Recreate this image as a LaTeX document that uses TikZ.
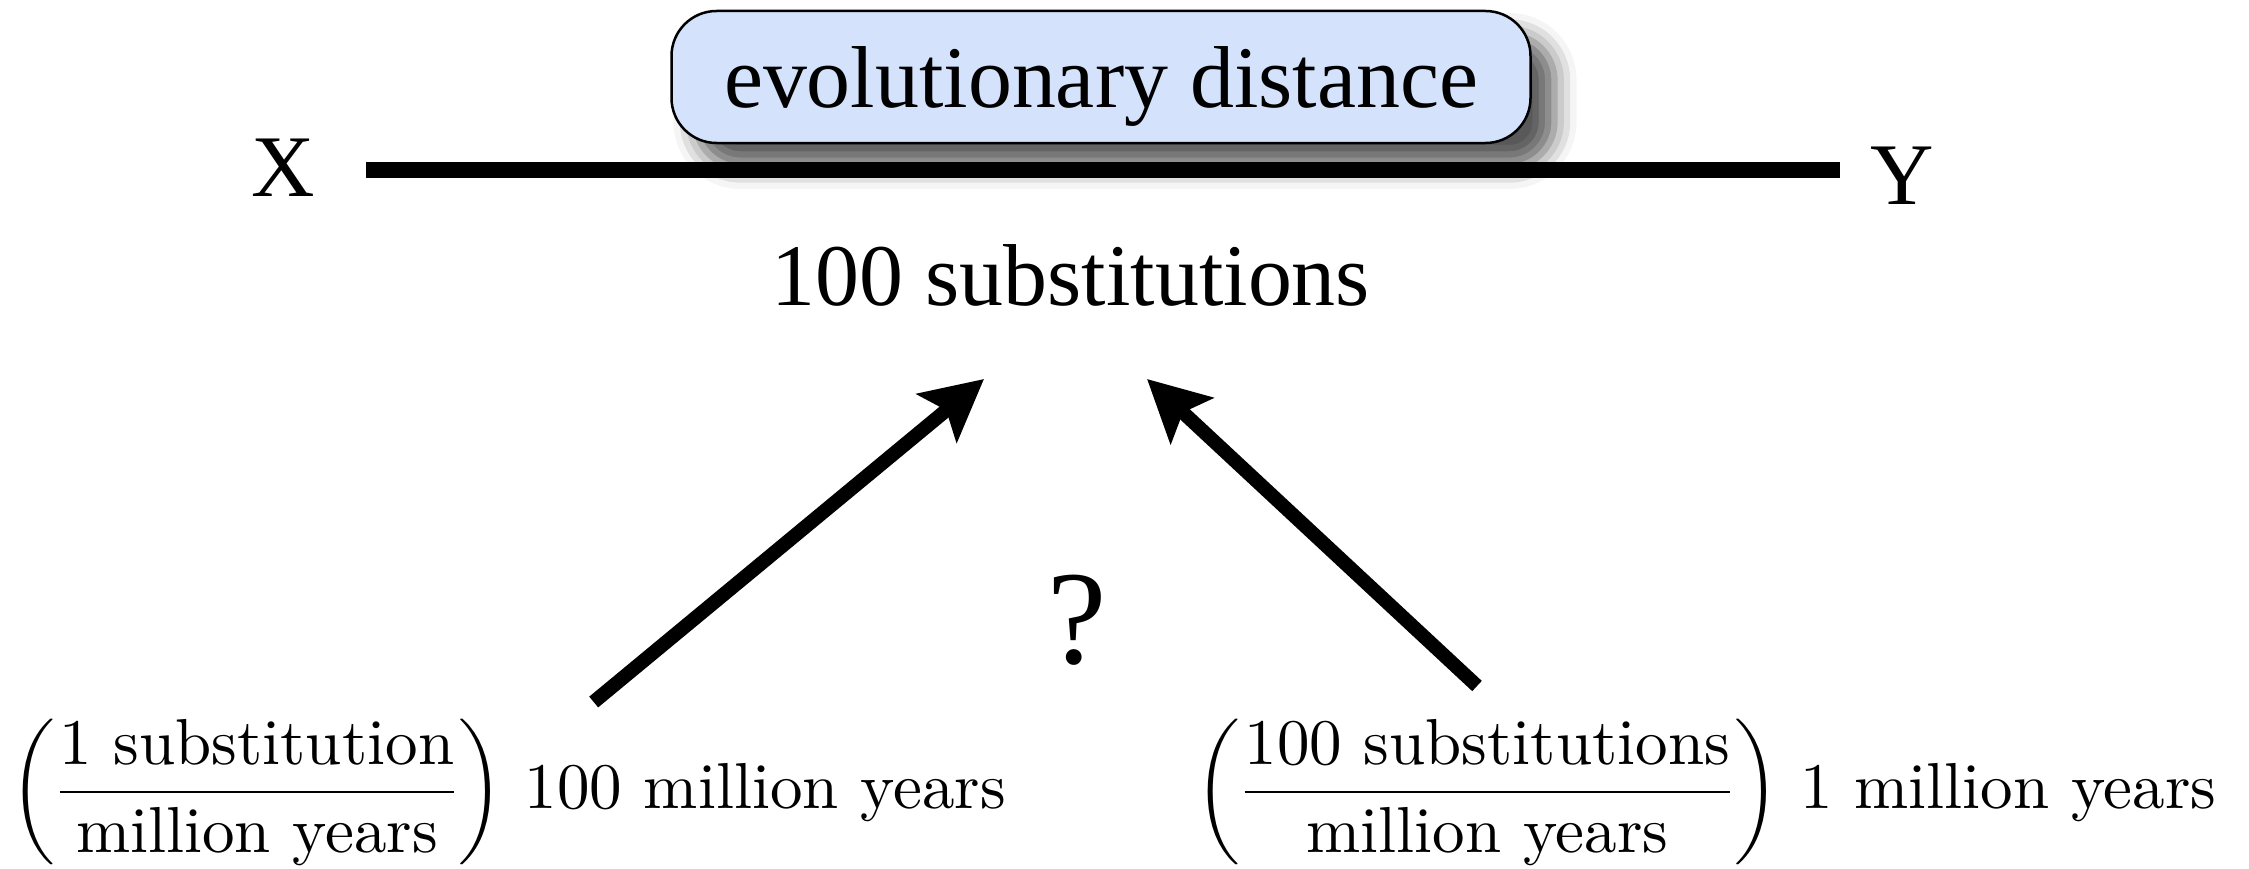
\RequirePackage{fix-cm}
\documentclass[tikz,border=0pt]{standalone}
\usepackage{amsmath}
\usepackage{fontspec}
\newfontfamily\timesfont{Liberation Serif}
\newfontfamily\lmten{lmroman10-regular}[Extension=.otf]
\usetikzlibrary{arrows.meta,shadows.blur}
\definecolor{boxblue}{RGB}{212,226,252}
\begin{document}
\begin{tikzpicture}[x=1cm,y=1cm,
  toptext/.style={font=\timesfont\fontsize{25}{30}\selectfont, inner sep=0pt},
  bigq/.style={font=\timesfont\fontsize{38}{44}\selectfont, inner sep=0pt},
  mathtext/.style={font=\lmten\fontsize{18.5}{22}\selectfont, inner sep=0pt},
  bigarrow/.style={line width=0.14cm, -{Stealth[length=0.61cm,width=0.62cm,inset=0.12cm]}},
  distbox/.style={draw, fill=boxblue, rounded corners=0.45cm, minimum width=8.59cm,
    text height=0.97cm, text depth=0.35cm, line width=0.025cm,
    blur shadow={shadow xshift=0.24cm, shadow yshift=-0.24cm, shadow blur radius=0.22cm, shadow opacity=65}},
]
\useasboundingbox (0,0) rectangle (22.49,8.68);
\node[toptext, anchor=base] (X) at (2.835,6.72) {X};
\node[toptext, anchor=base] (Y) at (19.02,6.64) {Y};
\coordinate (lstart) at (3.66,6.98);
\coordinate (lend) at (18.40,6.98);
\draw[line width=0.16cm] (lstart) -- (lend);
\node[toptext, anchor=base, distbox] (box) at (11.01,7.60) {evolutionary distance};
\node[toptext, anchor=base] (subs) at (10.71,5.63) {100 substitutions};
\node[bigq, anchor=base] (q) at (10.77,2.05) {?};
\node[mathtext, anchor=base west] (lf) at (0.10,0.60)
  {$\displaystyle\left(\frac{\text{1 substitution}}{\text{million years}}\right)$ 100 million years};
\node[mathtext, anchor=base west] (rf) at (11.95,0.60)
  {$\displaystyle\left(\frac{\text{100 substitutions}}{\text{million years}}\right)$ 1 million years};
\coordinate (la) at (5.937,1.66);
\coordinate (lb) at (9.84,4.89);
\coordinate (ra) at (14.77,1.82);
\coordinate (rb) at (11.47,4.89);
\draw[bigarrow] (la) -- (lb);
\draw[bigarrow] (ra) -- (rb);
\end{tikzpicture}
\end{document}
